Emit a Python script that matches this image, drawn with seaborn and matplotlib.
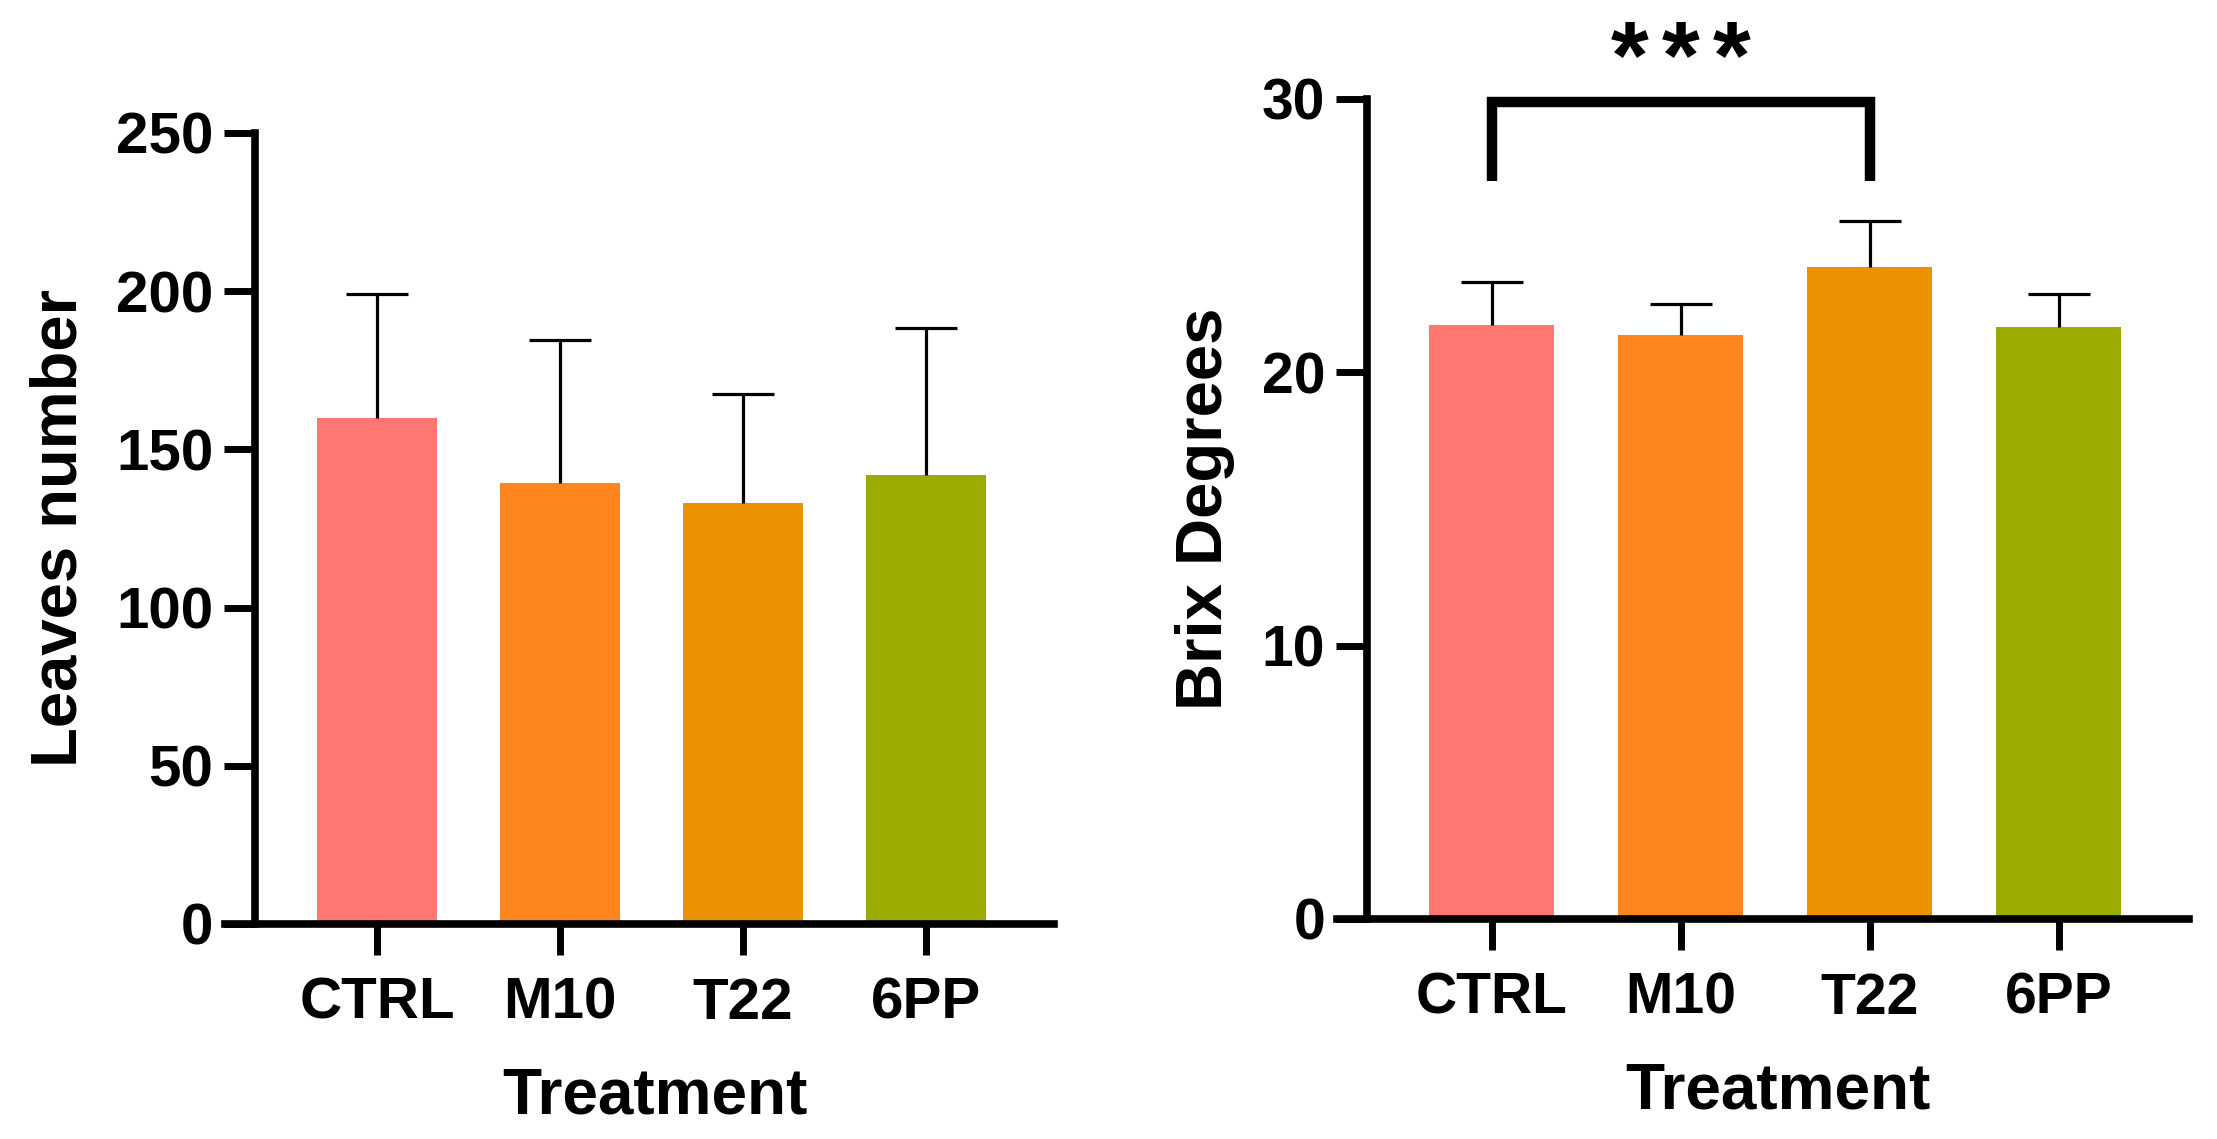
import matplotlib
matplotlib.use('Agg')
import matplotlib.pyplot as plt
import seaborn as sns
import pandas as pd
import numpy as np

# ===============================
# DATA
# ===============================
treatments = ['CTRL', 'M10', 'T22', '6PP']
bar_colors = ['#FF7771', '#FF851F', '#EC9200', '#9BAB00']

leaves_mean = [160, 139.5, 133, 142]
leaves_sd = [39, 45, 34.5, 46.5]

brix_mean = [21.72, 21.36, 23.85, 21.65]
brix_sd = [1.58, 1.14, 1.70, 1.20]

leaves_ticks = [0, 50, 100, 150, 200, 250]
brix_ticks = [0, 10, 20, 30]

# significance bracket CTRL vs T22
sig_pair = ('CTRL', 'T22')
sig_low, sig_high = 27.0, 29.9
sig_text_y = 31.3
sig_label = '*'

df_leaves = pd.DataFrame({'Treatment': treatments, 'val': leaves_mean, 'sd': leaves_sd})
df_brix = pd.DataFrame({'Treatment': treatments, 'val': brix_mean, 'sd': brix_sd})

# ===============================
# STYLE
# ===============================
sns.set_style('ticks')
plt.rcParams['font.family'] = ['Liberation Sans', 'DejaVu Sans']
plt.rcParams['font.weight'] = 'bold'
plt.rcParams['axes.labelweight'] = 'bold'
plt.rcParams['text.color'] = 'black'
plt.rcParams['axes.labelcolor'] = 'black'
plt.rcParams['xtick.color'] = 'black'
plt.rcParams['ytick.color'] = 'black'
plt.rcParams['axes.edgecolor'] = 'black'

fig = plt.figure(figsize=(22.17, 11.39), dpi=100)

ax1 = fig.add_axes([0.1150, 0.1888, 0.3604, 0.6945])
ax2 = fig.add_axes([0.6166, 0.1932, 0.3708, 0.7199])


def draw_panel(ax, df, ylim, yticks, ylabel, xlim, tick_fs):
    sns.barplot(data=df, x='Treatment', y='val', hue='Treatment', palette=bar_colors,
                legend=False, width=0.66, errorbar=None, saturation=1, linewidth=0, ax=ax)
    xs = np.arange(len(df))
    eb = ax.errorbar(xs, df['val'], yerr=[np.zeros(len(df)), df['sd']], fmt='none',
                     ecolor='black', elinewidth=2.3, capsize=22, capthick=2.3, zorder=1)
    # only the upper cap, like Prism
    eb[1][0].set_visible(False)
    ax.set_xlim(*xlim)
    ax.set_ylim(*ylim)
    ax.set_yticks(yticks)
    ax.set_ylabel(ylabel, fontsize=47, fontweight='bold', labelpad=19, color='black')
    ax.set_xlabel('Treatment', fontsize=46, fontweight='bold', labelpad=26, color='black')
    for s in ['top', 'right']:
        ax.spines[s].set_visible(False)
    for s in ['left', 'bottom']:
        ax.spines[s].set_linewidth(5.5)
        ax.spines[s].set_color('black')
    ax.tick_params(axis='both', length=22, width=5, color='black', labelcolor='black',
                   labelsize=tick_fs)
    ax.tick_params(axis='x', pad=16)
    ax.tick_params(axis='y', pad=8)
    for lab in ax.get_xticklabels() + ax.get_yticklabels():
        lab.set_fontweight('bold')
    # x axis line runs out to the end of the y ticks (Prism style)
    ext = 30 / (ax.get_window_extent().width / (xlim[1] - xlim[0]))
    ax.spines['bottom'].set_bounds(xlim[0] - ext, xlim[1])
    ax.spines['left'].set_bounds(ylim[0], ylim[1])


draw_panel(ax1, df_leaves, (0, 250), leaves_ticks, 'Leaves number', (-0.667, 3.70), 42)
draw_panel(ax2, df_brix, (0, 30), brix_ticks, 'Brix Degrees', (-0.66, 3.69), 41)

# ===============================
# SIGNIFICANCE
# ===============================
i0 = treatments.index(sig_pair[0])
i1 = treatments.index(sig_pair[1])
ax2.plot([i0, i0, i1, i1], [sig_low, sig_high, sig_high, sig_low], color='black',
         lw=7.5, solid_capstyle='butt', solid_joinstyle='miter', clip_on=False)
mid = (i0 + i1) / 2
for k in (-1, 0, 1):
    ax2.text(mid + k * 0.27, sig_text_y, sig_label, ha='center', va='center',
             fontsize=70, fontweight='bold', color='black', clip_on=False)

fig.savefig('out.png', dpi=100)
